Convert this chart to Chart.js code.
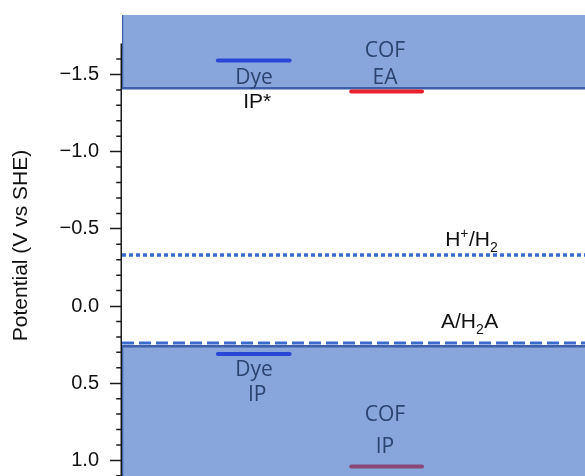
<!DOCTYPE html>
<html>
<head>
<meta charset="utf-8">
<script src="https://cdn.jsdelivr.net/npm/chart.js@4"></script>
<style>
  body { margin: 0; background: #fff; }
  #wrap { width: 585px; height: 476px; }
</style>
</head>
<body>
<div id="wrap"><canvas id="levels"></canvas></div>
<script>
// energy levels (V vs SHE)
const yTicks = [-1.5, -1.0, -0.5, 0.0, 0.5, 1.0];
const levelNames = ['Dye IP*', 'COF EA', 'Dye IP', 'COF IP'];
const levelValues = [-1.59, -1.39, 0.31, 1.04];
const bandEdges = [-1.41, 0.26];
const redoxNames = ['H+/H2', 'A/H2A'];
const redoxValues = [-0.33, 0.24];

const yMin = -1.885, yMax = 1.101, axisTop = -1.7;
const dyeX = [20.7, 36.2], cofX = [49.5, 64.8];
const levelColors = ['#2a46d6', '#e8202c', '#2a46d6', '#8b4877'];
const bandFill = '#88a6db', bandLine = '#3f5fa8', redoxColor = '#3a6bcf';
const labelInk = '#2c4370';

let datasets = [];
levelValues.forEach((v, i) => {
  const span = levelNames[i].startsWith('Dye') ? dyeX : cofX;
  datasets.push({
    label: levelNames[i],
    data: span.map(x => ({x: x, y: v})),
    borderColor: levelColors[i],
    borderWidth: 4,
    borderCapStyle: 'round',
    pointRadius: 0,
    order: 0
  });
});
redoxValues.forEach((v, i) => {
  datasets.push({
    label: redoxNames[i],
    data: [{x: 0, y: v}, {x: 100, y: v}],
    borderColor: redoxColor,
    borderWidth: i == 0 ? 3.5 : 3,
    borderDash: i == 0 ? [4, 3] : [12, 5],
    pointRadius: 0,
    order: 1
  });
});
// conduction side band (top) and valence side band (bottom)
datasets.push({
  label: 'top band',
  data: [{x: 0, y: yMin}, {x: 0, y: bandEdges[0]}, {x: 100, y: bandEdges[0]}],
  fill: {value: yMin},
  backgroundColor: bandFill,
  borderColor: bandLine,
  borderWidth: 2.5,
  pointRadius: 0,
  order: 2
});
datasets.push({
  label: 'top edge',
  data: [{x: 0, y: yMin}, {x: 100, y: yMin}],
  borderColor: bandLine,
  borderWidth: 4,
  pointRadius: 0,
  order: 2
});
datasets.push({
  label: 'bottom band',
  data: [{x: 0, y: yMax}, {x: 0, y: bandEdges[1]}, {x: 100, y: bandEdges[1]}],
  fill: {value: yMax},
  backgroundColor: bandFill,
  borderColor: bandLine,
  borderWidth: 2.5,
  pointRadius: 0,
  order: 2
});

const bandFont = '21px "Open Sans"';
const notes = [
  {text: 'COF', x: 56.8, y: -1.652, color: labelInk, font: bandFont},
  {text: 'Dye', x: 28.5, y: -1.477, color: labelInk, font: bandFont},
  {text: 'EA', x: 56.8, y: -1.477, color: labelInk, font: bandFont},
  {text: 'IP*', x: 29.2, y: -1.321, color: '#111', font: '21px "Liberation Sans"'},
  {text: 'Dye', x: 28.5, y: 0.415, color: labelInk, font: bandFont},
  {text: 'IP', x: 29.2, y: 0.576, color: labelInk, font: bandFont},
  {text: 'COF', x: 56.8, y: 0.706, color: labelInk, font: bandFont},
  {text: 'IP', x: 56.8, y: 0.913, color: labelInk, font: bandFont}
];
// couple labels: [text, script] where 1 = superscript, -1 = subscript
const couples = [
  {parts: [['H', 0], ['+', 1], ['/H', 0], ['2', -1]], x: 69.8, y: -0.389},
  {parts: [['A/H', 0], ['2', -1], ['A', 0]], x: 68.9, y: 0.142}
];

const annotate = {
  id: 'annotate',
  afterDatasetsDraw(chart) {
    const ctx = chart.ctx, xs = chart.scales.x, ys = chart.scales.y;
    ctx.save();
    // axis line (starts at -1.7) and minor ticks
    const x0 = chart.chartArea.left - 0.75;
    ctx.strokeStyle = '#1a1a1a';
    ctx.lineWidth = 1.5;
    ctx.beginPath();
    ctx.moveTo(x0, ys.getPixelForValue(axisTop));
    ctx.lineTo(x0, chart.chartArea.bottom);
    for (let k = -16; k <= 11; k++) {
      if (k % 5 === 0) continue;
      const py = ys.getPixelForValue(k / 10);
      ctx.moveTo(x0 - 5, py);
      ctx.lineTo(x0, py);
    }
    ctx.stroke();

    ctx.textAlign = 'center';
    ctx.textBaseline = 'middle';
    notes.forEach(n => {
      ctx.font = n.font;
      ctx.fillStyle = n.color;
      ctx.fillText(n.text, xs.getPixelForValue(n.x), ys.getPixelForValue(n.y));
    });

    ctx.textAlign = 'left';
    ctx.textBaseline = 'alphabetic';
    ctx.fillStyle = '#111';
    couples.forEach(c => {
      let px = xs.getPixelForValue(c.x);
      const base = ys.getPixelForValue(c.y);
      c.parts.forEach(p => {
        ctx.font = p[1] == 0 ? '21px "Liberation Sans"' : '14px "Liberation Sans"';
        const dy = p[1] == 1 ? -8 : (p[1] == -1 ? 6 : 0);
        ctx.fillText(p[0], px, base + dy);
        px += ctx.measureText(p[0]).width + (p[1] == 0 ? 0 : 0.5);
      });
    });
    ctx.restore();
  }
};

const chart = new Chart(document.getElementById('levels'), {
  type: 'line',
  data: {datasets: datasets},
  options: {
    responsive: true,
    maintainAspectRatio: false,
    animation: false,
    layout: {padding: {top: 15, right: 0, bottom: 0, left: 0}, autoPadding: false},
    plugins: {legend: {display: false}, tooltip: {enabled: false}},
    scales: {
      x: {type: 'linear', min: 0, max: 100, display: false},
      y: {
        min: yMin,
        max: yMax,
        reverse: true,
        afterBuildTicks: s => { s.ticks = yTicks.map(v => ({value: v})); },
        afterFit: s => { s.width = 122; s.paddingTop = 0; s.paddingBottom = 0; },
        border: {display: false},
        grid: {drawOnChartArea: false, drawTicks: true, tickLength: 12, tickWidth: 1.5, tickColor: '#1a1a1a'},
        ticks: {
          color: '#111',
          padding: 11,
          font: {family: 'Liberation Sans', size: 20},
          callback: v => v.toFixed(1).replace('-', '\u2212')
        },
        title: {
          display: true,
          text: 'Potential (V vs SHE)',
          color: '#111',
          font: {family: 'Liberation Sans', size: 21},
          padding: {top: 9}
        }
      }
    }
  },
  plugins: [annotate]
});
</script>
</body>
</html>
